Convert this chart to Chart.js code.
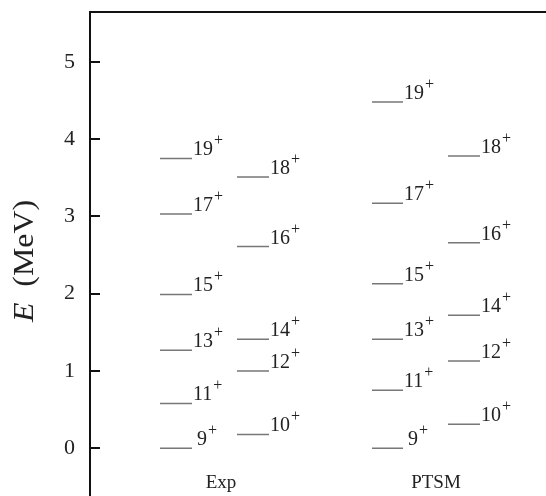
<!DOCTYPE html>
<html>
<head>
<meta charset="utf-8">
<script src="https://cdn.jsdelivr.net/npm/chart.js@4.4.0/dist/chart.umd.min.js"></script>
<style>
html,body{margin:0;padding:0;background:#fff;}
#wrap{width:546px;height:496px;position:relative;}
#probe{position:absolute;left:-1000px;top:0;font-family:"Liberation Serif";}
</style>
</head>
<body>
<div id="probe">Exp 0123456789 <i>E</i> (MeV)</div>
<div id="wrap"><canvas id="c"></canvas></div>
<script>
// ---- data ----
const categories = ['Exp', 'PTSM'];
const spinsOdd  = ['9', '11', '13', '15', '17', '19'];
const spinsEven = ['10', '12', '14', '16', '18'];
const expOdd   = [0.00, 0.58, 1.27, 1.99, 3.03, 3.75];
const expEven  = [0.18, 1.00, 1.41, 2.61, 3.51];
const ptsmOdd  = [0.00, 0.75, 1.41, 2.13, 3.17, 4.48];
const ptsmEven = [0.31, 1.13, 1.72, 2.66, 3.78];
const yTicks = [0, 1, 2, 3, 4, 5];

// ---- layout (x units measured from the axis) ----
const columns = [
  {vals: expOdd,  spins: spinsOdd,  x0: 70,  x1: 102},
  {vals: expEven, spins: spinsEven, x0: 147, x1: 179},
  {vals: ptsmOdd, spins: spinsOdd,  x0: 282, x1: 313},
  {vals: ptsmEven,spins: spinsEven, x0: 358, x1: 390}
];
const categoryX = [131, 346];

function segData(col) {
  const d = [];
  col.vals.forEach(v => {
    d.push({x: col.x0, y: v});
    d.push({x: col.x1, y: v});
    d.push({x: col.x1, y: null});
  });
  return d;
}

const SERIF = '"Liberation Serif", serif';

const decor = {
  id: 'decor',
  afterDraw(chart) {
    const ctx = chart.ctx;
    const xs = chart.scales.x, ys = chart.scales.y;
    const ca = chart.chartArea;
    ctx.save();
    ctx.strokeStyle = '#111';
    ctx.lineWidth = 2;
    ctx.beginPath();
    ctx.moveTo(ca.left - 1, ca.top);
    ctx.lineTo(chart.width, ca.top);
    ctx.stroke();
    yTicks.forEach(v => {
      const y = Math.round(ys.getPixelForValue(v));
      ctx.beginPath();
      ctx.moveTo(ca.left, y);
      ctx.lineTo(ca.left + 10, y);
      ctx.stroke();
    });
    ctx.fillStyle = '#222';
    ctx.textBaseline = 'alphabetic';
    ctx.textAlign = 'left';
    columns.forEach(col => {
      col.vals.forEach((v, i) => {
        const s = col.spins[i];
        let x = xs.getPixelForValue(col.x1) + 1 + (s.length === 1 ? 4 : 0);
        const y = ys.getPixelForValue(v) - 3;
        ctx.font = '20px ' + SERIF;
        ctx.fillText(s, x, y);
        const w = ctx.measureText(s).width;
        ctx.font = '16px ' + SERIF;
        ctx.fillText('+', x + w + 1, y - 10);
      });
    });
    ctx.font = '19px ' + SERIF;
    ctx.textAlign = 'center';
    categories.forEach((c, i) => {
      ctx.fillText(c, xs.getPixelForValue(categoryX[i]), 488);
    });
    ctx.translate(33, 261);
    ctx.rotate(-Math.PI / 2);
    ctx.font = 'italic 30px ' + SERIF;
    const wE = ctx.measureText('E').width;
    ctx.font = '30px ' + SERIF;
    const rest = '  (MeV)';
    const wR = ctx.measureText(rest).width;
    const total = wE + wR;
    const sc = 122 / total;
    ctx.scale(sc, 1);
    ctx.textAlign = 'left';
    ctx.font = 'italic 30px ' + SERIF;
    ctx.fillText('E', -total / 2, 0);
    ctx.font = '30px ' + SERIF;
    ctx.fillText(rest, -total / 2 + wE, 0);
    ctx.restore();
  }
};

function build() {
  new Chart(document.getElementById('c'), {
    type: 'line',
    data: {
      datasets: columns.map(col => ({
        data: segData(col),
        borderColor: '#777',
        borderWidth: 1.5,
        pointRadius: 0,
        spanGaps: false,
        fill: false
      }))
    },
    options: {
      responsive: true,
      maintainAspectRatio: false,
      animation: false,
      layout: {padding: {top: 12, right: 0, bottom: 0, left: 0}},
      plugins: {legend: {display: false}, tooltip: {enabled: false}},
      scales: {
        x: {type: 'linear', min: 0, max: 456, display: false},
        y: {
          type: 'linear',
          min: -0.617, max: 5.644,
          afterFit(scale) { scale.width = 90; scale.paddingTop = 0; scale.paddingBottom = 0; },
          afterBuildTicks(scale) { scale.ticks = yTicks.map(v => ({value: v})); },
          grid: {display: false},
          border: {display: true, color: '#111', width: 2},
          ticks: {
            padding: 7,
            color: '#222',
            font: {family: SERIF, size: 22},
            callback: v => String(v)
          }
        }
      }
    },
    plugins: [decor]
  });
}
Promise.all([
  document.fonts.load('19px "Liberation Serif"'),
  document.fonts.load('italic 30px "Liberation Serif"')
]).then(build, build);
</script>
</body>
</html>
